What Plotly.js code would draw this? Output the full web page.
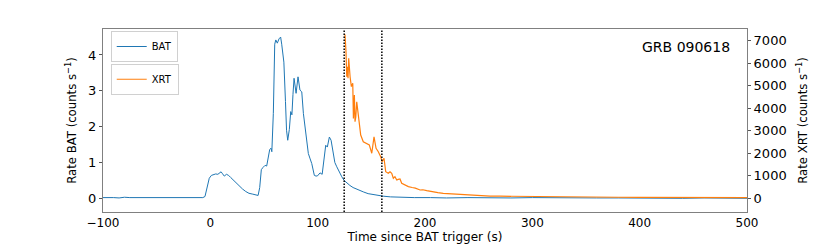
<!DOCTYPE html>
<html>
<head>
<meta charset="utf-8">
<script src="https://cdn.plot.ly/plotly-3.0.1.min.js"></script>
<style>
  html, body { margin: 0; padding: 0; background: #ffffff; }
  #chart { width: 830px; height: 245px; }
</style>
</head>
<body>
<div id="chart"></div>
<script>
// ---- Data ----
const batTime = [-100, -95, -90, -85, -80, -75, -70, -65, -60, -55, -50, -45, -40, -35, -30, -25, -20, -15, -10, -7,
  -5, -3, -1, 1, 3, 5, 7, 9, 10, 11, 13, 15, 17, 19, 21, 24, 27, 30, 33, 36, 39, 42, 44.5,
  46, 47.5, 49, 51, 52.5, 54, 55.3, 56.5, 57.3, 58.7, 60, 61, 62.4, 64, 65.5, 66.5, 68.5, 70, 71, 72.1,
  73.6, 74.9, 76, 77, 78, 79.9, 81.7, 83.5, 85.2, 86.7, 89.2, 91.3, 93, 94.5, 96.9, 98.5, 100, 102.2, 104.2,
  106, 107.5, 109, 110.9, 112.5, 114.6, 116, 117.8, 120.8, 122.5, 124.6, 127, 130, 133, 137, 142.5, 147,
  152, 157, 161, 168, 177, 190, 205, 220, 240, 260, 280, 300, 320, 340, 360, 380, 400, 420, 440, 460, 480, 500];
const batRate = [0.02, 0.03, 0.02, 0.01, 0.03, 0.02, 0.02, 0.01, 0.03, 0.02, 0.01, 0.02, 0.01, 0.02, 0.01, 0.03, 0.02, 0.01, 0.03, 0.02,
  0.05, 0.32, 0.56, 0.64, 0.66, 0.68, 0.67, 0.72, 0.74, 0.70, 0.62, 0.67, 0.64, 0.58, 0.52, 0.44, 0.35, 0.26, 0.19, 0.14, 0.12, 0.10, 0.08,
  0.30, 0.80, 0.86, 0.92, 0.90, 1.20, 1.36, 1.40, 1.30, 2.37, 4.30, 4.42, 4.33, 4.45, 4.50, 4.30, 3.80, 2.70, 1.90, 1.62,
  1.92, 2.42, 2.33, 2.90, 3.35, 2.93, 3.39, 3.02, 2.97, 2.37, 1.81, 1.25, 1.10, 0.97, 0.64, 0.62, 0.63, 0.71, 0.67,
  1.16, 1.48, 1.43, 1.71, 1.62, 1.20, 1.00, 0.88, 0.69, 0.60, 0.50, 0.43, 0.36, 0.30, 0.24, 0.18, 0.13,
  0.10, 0.08, 0.06, 0.04, 0.03, 0.02, 0.02, 0.01, 0.02, 0.01, 0.01, 0.02, 0.01, 0.00, 0.01, 0.01, 0.00, 0.01, 0.00, 0.01, 0.00, 0.00];

const xrtTime = [125, 125.5, 126.4, 127.1, 127.7, 128.3, 128.9, 129.5, 130.2, 131.4, 132.7, 133.3, 134.2, 134.8, 135.5,
  136.4, 137.9, 139, 140.1, 142.5, 145.7, 148.1, 150.4, 152.5, 154.4, 156.5, 158.7, 160, 161.8, 163.4, 165.8,
  167.4, 169, 170.5, 172, 173.7, 175, 176.7, 178.3, 181, 184.5, 188, 191, 195.4, 198, 201.6, 205, 207.8, 212,
  217, 223, 229.6, 237, 245, 252, 260.6, 270, 277.7, 290, 300, 320, 340, 360, 380, 400, 420, 440, 460, 480, 500];
const xrtRate = [7300, 7250, 6510, 5400, 5840, 5330, 6220, 5800, 5400, 4960, 5110, 3550, 4590, 3400, 3600,
  4290, 3550, 3100, 2810, 2510, 2440, 2370, 2000, 2730, 2220, 2070, 1850, 1620, 1780, 1180, 1110,
  1180, 1110, 890, 960, 810, 840, 860, 670, 600, 520, 480, 450, 370, 380, 340, 300, 270, 250,
  220, 200, 180, 150, 130, 115, 100, 95, 90, 80, 75, 65, 58, 52, 47, 44, 40, 37, 33, 30, 27];

const markerTimes = [124.7, 159.8];
const xTicks = [-100, 0, 100, 200, 300, 400, 500];
const yBatTicks = [0, 1, 2, 3, 4];
const yXrtTicks = [0, 1000, 2000, 3000, 4000, 5000, 6000, 7000];
const annotationText = 'GRB 090618';

// ---- Figure ----
const tickFont = { family: 'DejaVu Sans, sans-serif', size: 13, color: '#000000' };
const xTickFont = { family: 'DejaVu Sans, sans-serif', size: 12, color: '#000000' };
const narrowFont = '"Liberation Sans Narrow", "DejaVu Sans Condensed", "Arial Narrow", sans-serif';

const traces = [
  { x: batTime, y: batRate, type: 'scatter', mode: 'lines', name: 'BAT',
    line: { color: '#1f77b4', width: 1 }, xaxis: 'x', yaxis: 'y', legend: 'legend' },
  { x: xrtTime, y: xrtRate, type: 'scatter', mode: 'lines', name: 'XRT',
    line: { color: '#ff7f0e', width: 1.2 }, xaxis: 'x', yaxis: 'y2', legend: 'legend2' }
];

const shapes = markerTimes.map(t => ({
  type: 'line', xref: 'x', yref: 'paper', x0: t, x1: t, y0: 0, y1: 1,
  line: { color: '#000000', width: 1.5, dash: '1.5px,1.5px' }
}));

const legendStyle = {
  bgcolor: '#ffffff', bordercolor: '#d0d0d0', borderwidth: 1,
  font: { family: 'DejaVu Sans, sans-serif', size: 10, color: '#000000' },
  xanchor: 'left', yanchor: 'top', itemwidth: 30
};

const layout = {
  width: 830, height: 245,
  margin: { l: 103, r: 83, t: 29, b: 33 },
  paper_bgcolor: '#ffffff', plot_bgcolor: '#ffffff',
  showlegend: true,
  legend: Object.assign({}, legendStyle, { x: 0.012, y: 0.989 }),
  legend2: Object.assign({}, legendStyle, { x: 0.012, y: 0.81 }),
  xaxis: {
    range: [-100, 500], tickvals: xTicks, ticks: '',
    showgrid: false, zeroline: false, showline: true, linecolor: '#808080', linewidth: 1, mirror: true,
    tickfont: xTickFont, automargin: false,
    title: { text: 'Time since BAT trigger (s)', font: { family: 'DejaVu Sans, sans-serif', size: 12, color: '#000000' }, standoff: 2 }
  },
  yaxis: {
    range: [-0.382, 4.725], tickvals: yBatTicks, ticks: 'outside', ticklen: 3, tickcolor: '#555555',
    showgrid: false, zeroline: false, showline: true, linecolor: '#808080', linewidth: 1,
    tickfont: tickFont, automargin: false,
    title: { text: 'Rate BAT (counts s<sup>−1</sup>)', font: { family: narrowFont, size: 13, color: '#000000' }, standoff: 8 }
  },
  yaxis2: {
    overlaying: 'y', side: 'right',
    range: [-608, 7519], tickvals: yXrtTicks, ticks: 'outside', ticklen: 3, tickcolor: '#555555',
    showgrid: false, zeroline: false, showline: true, linecolor: '#808080', linewidth: 1,
    tickfont: tickFont, automargin: false,
    title: { text: 'Rate XRT (counts s<sup>−1</sup>)', font: { family: narrowFont, size: 13, color: '#000000' }, standoff: 12 }
  },
  shapes: shapes,
  annotations: [{
    text: annotationText, xref: 'paper', yref: 'paper', x: 0.977, y: 0.903,
    xanchor: 'right', yanchor: 'middle', showarrow: false,
    font: { family: 'DejaVu Sans, sans-serif', size: 14, color: '#000000' }
  }]
};

Plotly.newPlot('chart', traces, layout, { displayModeBar: false, staticPlot: true });
</script>
</body>
</html>
